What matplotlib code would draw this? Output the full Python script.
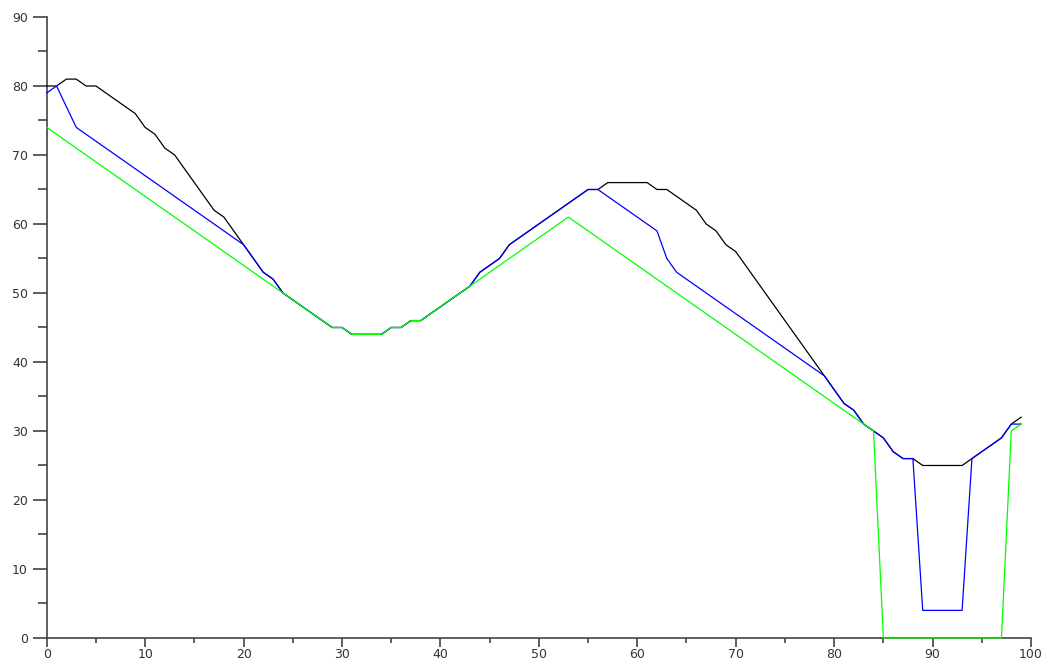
import matplotlib
matplotlib.use("Agg")
import matplotlib.pyplot as plt
from matplotlib.ticker import MultipleLocator

x = list(range(100))

black = [80, 80, 81, 81, 80, 80, 79, 78, 77, 76,
         74, 73, 71, 70, 68, 66, 64, 62, 61, 59,
         57, 55, 53, 52, 50, 49, 48, 47, 46, 45,
         45, 44, 44, 44, 44, 45, 45, 46, 46, 47,
         48, 49, 50, 51, 53, 54, 55, 57, 58, 59,
         60, 61, 62, 63, 64, 65, 65, 66, 66, 66,
         66, 66, 65, 65, 64, 63, 62, 60, 59, 57,
         56, 54, 52, 50, 48, 46, 44, 42, 40, 38,
         36, 34, 33, 31, 30, 29, 27, 26, 26, 25,
         25, 25, 25, 25, 26, 27, 28, 29, 31, 32]

blue = [79, 80, 77, 74, 73, 72, 71, 70, 69, 68,
        67, 66, 65, 64, 63, 62, 61, 60, 59, 58,
        57, 55, 53, 52, 50, 49, 48, 47, 46, 45,
        45, 44, 44, 44, 44, 45, 45, 46, 46, 47,
        48, 49, 50, 51, 53, 54, 55, 57, 58, 59,
        60, 61, 62, 63, 64, 65, 65, 64, 63, 62,
        61, 60, 59, 55, 53, 52, 51, 50, 49, 48,
        47, 46, 45, 44, 43, 42, 41, 40, 39, 38,
        36, 34, 33, 31, 30, 29, 27, 26, 26, 4,
        4, 4, 4, 4, 26, 27, 28, 29, 31, 31]

green = [74, 73, 72, 71, 70, 69, 68, 67, 66, 65,
         64, 63, 62, 61, 60, 59, 58, 57, 56, 55,
         54, 53, 52, 51, 50, 49, 48, 47, 46, 45,
         45, 44, 44, 44, 44, 45, 45, 46, 46, 47,
         48, 49, 50, 51, 52, 53, 54, 55, 56, 57,
         58, 59, 60, 61, 60, 59, 58, 57, 56, 55,
         54, 53, 52, 51, 50, 49, 48, 47, 46, 45,
         44, 43, 42, 41, 40, 39, 38, 37, 36, 35,
         34, 33, 32, 31, 30, 0, 0, 0, 0, 0,
         0, 0, 0, 0, 0, 0, 0, 0, 30, 31]

fig = plt.figure(figsize=(10.45, 6.64), dpi=100)
ax = fig.add_axes([0.0447, 0.0392, 0.9419, 0.9352])

ax.plot(x, black, color="#000000", lw=0.9, zorder=3, clip_on=False)
ax.plot(x, blue, color="#0000ff", lw=0.9, zorder=4, clip_on=False)
ax.plot(x, green, color="#00ff00", lw=0.9, zorder=5, clip_on=False)

ax.set_xlim(0, 100)
ax.set_ylim(0, 90)
ax.xaxis.set_major_locator(MultipleLocator(10))
ax.xaxis.set_minor_locator(MultipleLocator(5))
ax.yaxis.set_major_locator(MultipleLocator(10))
ax.yaxis.set_minor_locator(MultipleLocator(5))

for s in ["top", "right"]:
    ax.spines[s].set_visible(False)
for s in ["left", "bottom"]:
    ax.spines[s].set_color("#444444")
    ax.spines[s].set_linewidth(1.2)

# scilab-like outward ticks: longer on y than on x
ax.tick_params(axis="x", which="major", direction="out", length=6.5, width=1.2,
               color="#444444", labelsize=9, labelcolor="#333333", pad=1)
ax.tick_params(axis="x", which="minor", direction="out", length=3.6, width=1.2,
               color="#444444")
ax.tick_params(axis="y", which="major", direction="out", length=10, width=1.2,
               color="#444444", labelsize=9, labelcolor="#333333", pad=3.5)
ax.tick_params(axis="y", which="minor", direction="out", length=6.5, width=1.2,
               color="#444444")

fig.savefig("out.png", dpi=100)
